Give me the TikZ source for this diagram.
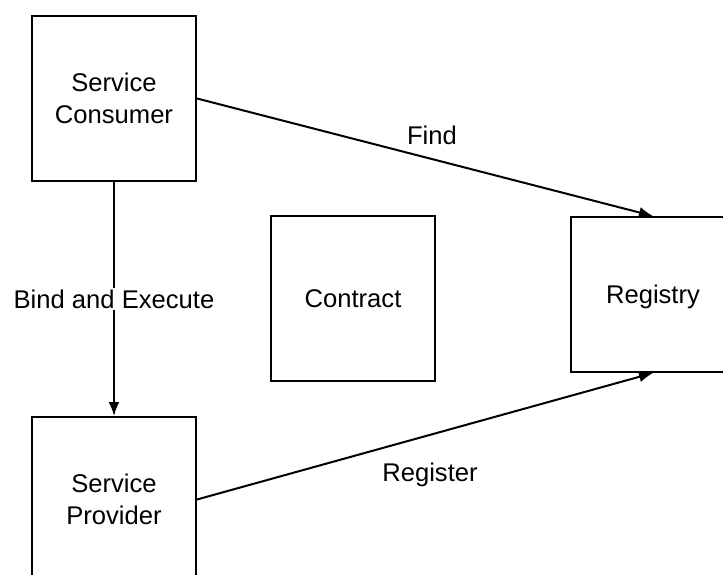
\documentclass[tikz,border=0pt]{standalone}
\usepackage{fontspec}
\setmainfont{Liberation Sans}
\usetikzlibrary{arrows.meta}
\begin{document}
\begin{tikzpicture}[x=1pt,y=-1pt,
	caja/.style={draw,line width=2pt,minimum width=164pt,minimum height=165pt,inner sep=0pt,align=center},
	flecha/.style={line width=2pt,-{Latex[length=14pt,width=11pt]}},
	every node/.style={font=\fontsize{25.6}{32}\selectfont}]
		%Marco
		\useasboundingbox (0,0) rectangle (723,575);
		\clip (0,0) rectangle (723,575);
		%Cajas
		\node[caja](consumer)at (114,98.5) {Service\\Consumer};
		\node[caja](provider)at (114,499.5) {Service\\Provider};
		\node[caja](contract)at (353,298.5) {Contract};
		\node[caja,minimum height=155pt,text depth=-12pt](registry)at (653,294.5) {Registry};
		
		%Flechas
		\draw[flecha] (consumer.east) -- (registry.north);
		\draw[flecha] (provider.east) -- (registry.south);
		\draw[flecha] (consumer.south) -- node[fill=white,inner sep=2pt](bind){Bind and Execute} (provider.north);
		
		%Texto de las flechas
		\node(find)at (432,135) {Find};
		\node(register)at (430,475) {Register};
		
	\end{tikzpicture}
\end{document}
